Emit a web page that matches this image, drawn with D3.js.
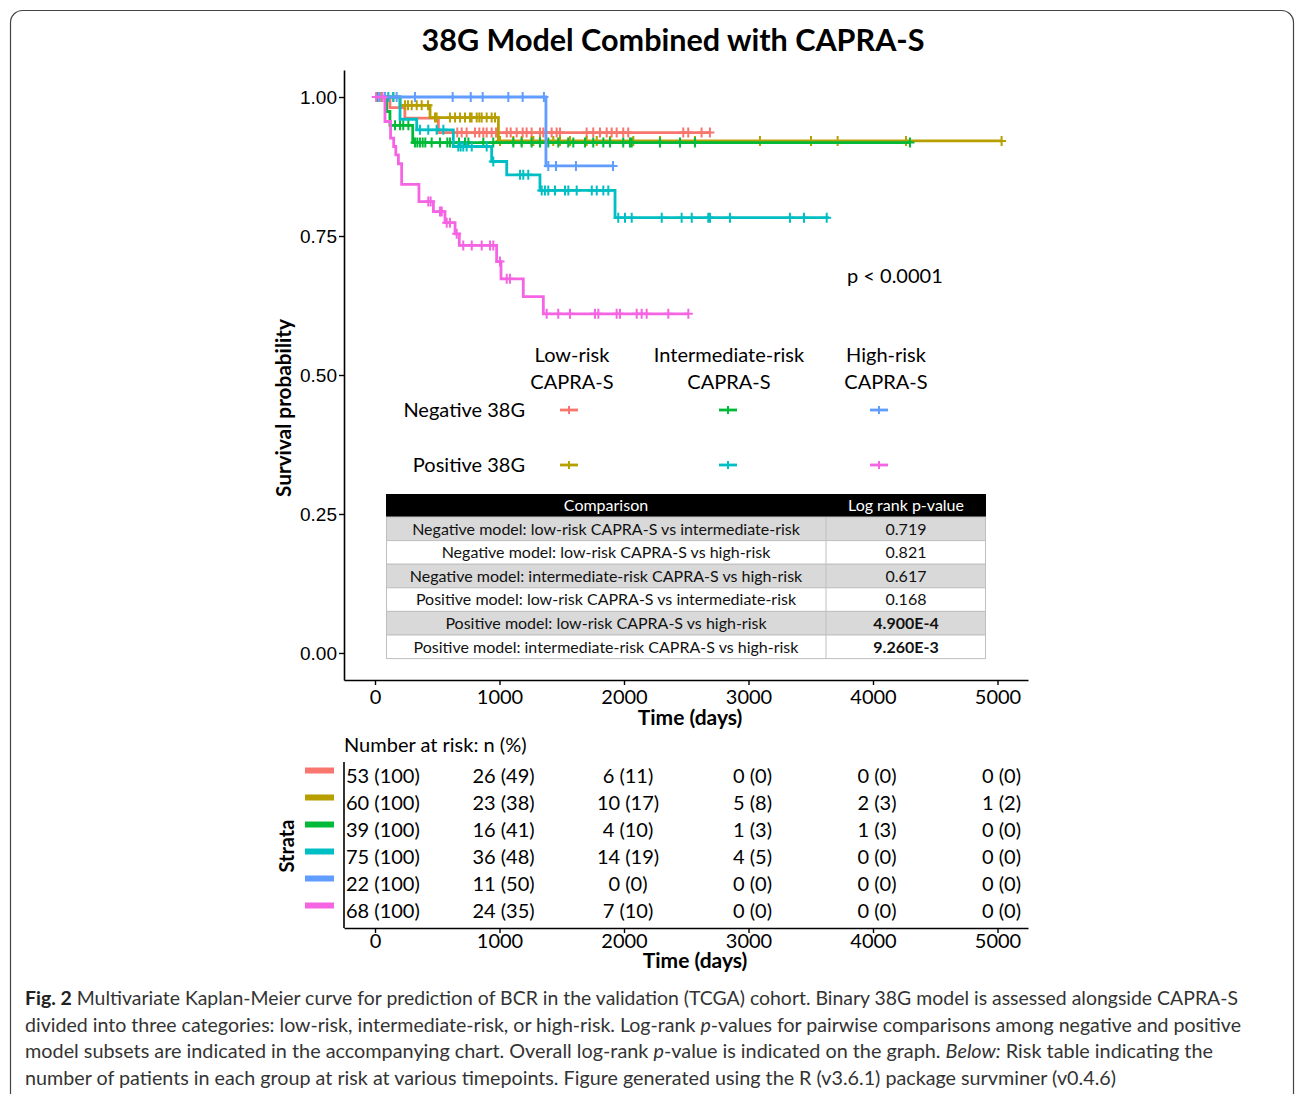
<!DOCTYPE html>
<html><head><meta charset="utf-8">
<script src="https://cdn.jsdelivr.net/npm/d3@7/dist/d3.min.js"></script>
<style>
html,body{margin:0;padding:0;background:#fff;}
svg{display:block;}
text{font-family:Lato,"Open Sans",sans-serif;}
</style></head><body>
<svg id="chart" width="1295" height="1094"></svg>
<script>
// ---------- DATA ----------
const strataNames = ["Negative 38G / Low-risk CAPRA-S","Positive 38G / Low-risk CAPRA-S","Negative 38G / Intermediate-risk CAPRA-S","Positive 38G / Intermediate-risk CAPRA-S","Negative 38G / High-risk CAPRA-S","Positive 38G / High-risk CAPRA-S"];
const strataColors = ["#F8766D","#B79F00","#00BA38","#00BFC4","#619CFF","#F564E3"];

const negLowTimes = [0, 120, 240, 509, 2690];
const negLowSurv  = [1, 0.981, 0.962, 0.936, 0.936];
const negLowCens  = [13, 54, 661, 696, 736, 803, 838, 870, 897, 937, 972, 1058, 1090, 1138, 1186, 1218, 1258, 1325, 1352, 1419, 1459, 1486, 1700, 1753, 1807, 1861, 1901, 1941, 1994, 2034, 2476, 2516, 2623, 2690];

const posLowTimes = [0, 201, 442, 991, 5033];
const posLowSurv  = [1, 0.985, 0.963, 0.921, 0.921];
const posLowCens  = [50, 147, 241, 265, 295, 335, 375, 426, 482, 495, 602, 643, 683, 723, 763, 776, 817, 838, 857, 897, 937, 964, 1004, 1111, 1178, 1258, 1272, 1325, 1432, 1486, 1566, 1700, 1781, 1888, 2075, 2289, 2570, 3092, 3502, 3716, 4265, 5033];

const negIntTimes = [0, 94, 120, 303, 4297];
const negIntSurv  = [1, 0.974, 0.949, 0.918, 0.918];
const negIntCens  = [20, 161, 201, 227, 268, 321, 340, 361, 383, 404, 455, 522, 581, 602, 675, 723, 750, 870, 950, 1111, 1178, 1258, 1325, 1392, 1472, 1552, 1593, 1687, 1753, 1834, 1888, 1994, 2048, 2062, 2289, 2450, 2570, 4297];

const posIntTimes = [0, 201, 335, 629, 937, 1058, 1325, 1928, 3646];
const posIntSurv  = [1, 0.96, 0.941, 0.911, 0.884, 0.860, 0.832, 0.783, 0.783];
const posIntCens  = [107, 147, 361, 428, 495, 549, 669, 688, 709, 736, 777, 897, 950, 1165, 1191, 1231, 1339, 1365, 1392, 1446, 1526, 1553, 1620, 1741, 1781, 1834, 1874, 1954, 2008, 2062, 2303, 2463, 2544, 2677, 2691, 2851, 3333, 3446, 3628];

const negHighTimes = [0, 1373, 1912];
const negHighSurv  = [1, 0.876, 0.876];
const negHighCens  = [35, 80, 174, 321, 624, 769, 865, 1071, 1186, 1357, 1392, 1454, 1614, 1912];

const posHighTimes = [0, 80, 125, 150, 167, 188, 214, 353, 469, 562, 643, 677, 977, 1012, 1191, 1352, 2517];
const posHighSurv  = [1, 0.956, 0.926, 0.911, 0.896, 0.880, 0.843, 0.812, 0.794, 0.774, 0.754, 0.733, 0.704, 0.673, 0.641, 0.610, 0.610];
const posHighCens  = [10, 60, 428, 447, 522, 536, 576, 602, 656, 709, 777, 857, 924, 950, 1004, 1058, 1084, 1379, 1472, 1566, 1767, 1794, 1941, 1968, 2102, 2142, 2182, 2356, 2517];

const xTicks = [0, 1000, 2000, 3000, 4000, 5000];
const yTicks = [0, 0.25, 0.5, 0.75, 1.0];

const riskN   = [[53,26,6,0,0,0],[60,23,10,5,2,1],[39,16,4,1,1,0],[75,36,14,4,0,0],[22,11,0,0,0,0],[68,24,7,0,0,0]];
const riskPct = [[100,49,11,0,0,0],[100,38,17,8,3,2],[100,41,10,3,3,0],[100,48,19,5,0,0],[100,50,0,0,0,0],[100,35,10,0,0,0]];

const legendCols = ["Low-risk|CAPRA-S","Intermediate-risk|CAPRA-S","High-risk|CAPRA-S"];
const legendRows = ["Negative 38G","Positive 38G"];

const compLabels = ["Negative model: low-risk CAPRA-S vs intermediate-risk","Negative model: low-risk CAPRA-S vs high-risk","Negative model: intermediate-risk CAPRA-S vs high-risk","Positive model: low-risk CAPRA-S vs intermediate-risk","Positive model: low-risk CAPRA-S vs high-risk","Positive model: intermediate-risk CAPRA-S vs high-risk"];
const compPvals = ["0.719","0.821","0.617","0.168","4.900E-4","9.260E-3"];
const compBold  = [false,false,false,false,true,true];

const series = [
  {times:negLowTimes, surv:negLowSurv, cens:negLowCens},
  {times:posLowTimes, surv:posLowSurv, cens:posLowCens},
  {times:negIntTimes, surv:negIntSurv, cens:negIntCens},
  {times:posIntTimes, surv:posIntSurv, cens:posIntCens},
  {times:negHighTimes, surv:negHighSurv, cens:negHighCens},
  {times:posHighTimes, surv:posHighSurv, cens:posHighCens}
];
const drawOrder = [0, 1, 2, 3, 4, 5];

// ---------- CHART ----------
const svg = d3.select("#chart");
svg.append("rect").attr("x",10.5).attr("y",10.5).attr("width",1283).attr("height",1110)
  .attr("rx",12).attr("fill","none").attr("stroke","#444").attr("stroke-width",1.2);

svg.append("text").attr("x",673).attr("y",51).attr("text-anchor","middle")
  .attr("font-size",30).attr("font-weight","bold").attr("fill","#000")
  .attr("textLength",503).attr("lengthAdjust","spacingAndGlyphs")
  .text("38G Model Combined with CAPRA-S");

const x = d3.scaleLinear().domain([-249, 5245]).range([344, 1028]);
const y = d3.scaleLinear().domain([-0.0486, 1.0486]).range([680, 70]);

function styleX(g, yOff){
  g.select(".domain").attr("stroke","#000").attr("stroke-width",1.6);
  g.selectAll(".tick line").attr("stroke","#000").attr("stroke-width",1.4);
  g.selectAll(".tick text").attr("font-size",20).attr("fill","#000").attr("y",yOff).attr("dy","0.8em")
    .style("font-family","Lato");
}
const gx = svg.append("g").attr("transform","translate(0,680)")
  .call(d3.axisBottom(x).tickValues(xTicks).tickSize(5).tickSizeOuter(0).tickFormat(d3.format("d")));
styleX(gx, 8);
const gy = svg.append("g").attr("transform","translate(344,0)")
  .call(d3.axisLeft(y).tickValues(yTicks).tickSize(5).tickSizeOuter(0).tickFormat(d3.format(".2f")));
gy.select(".domain").attr("stroke","#000").attr("stroke-width",1.6);
gy.selectAll(".tick line").attr("stroke","#000").attr("stroke-width",1.4);
gy.selectAll(".tick text").attr("font-size",19).attr("fill","#000").attr("dy","0.35em")
  .style("font-family","'Liberation Sans'").attr("x",-7);

svg.append("text").attr("x",690).attr("y",725).attr("text-anchor","middle")
  .attr("font-size",21).attr("font-weight","bold").text("Time (days)");
svg.append("text").attr("transform","translate(291,408) rotate(-90)").attr("text-anchor","middle")
  .attr("font-size",20).attr("font-weight","bold")
  .attr("textLength",178).attr("lengthAdjust","spacingAndGlyphs").text("Survival probability");

// curves
const line = d3.line().x(d=>x(d[0])).y(d=>y(d[1])).curve(d3.curveStepAfter);
function survAt(s, t){
  let v = s.surv[0];
  for(let i=0;i<s.times.length;i++){ if(s.times[i]<=t) v = s.surv[i]; }
  return v;
}
const plotG = svg.append("g");
drawOrder.forEach(i=>{
  const s = series[i];
  const pts = s.times.map((t,k)=>[t, s.surv[k]]);
  plotG.append("path").attr("d", line(pts)).attr("fill","none")
    .attr("stroke", strataColors[i]).attr("stroke-width",2.8);
  plotG.selectAll(null).data(s.cens).enter().append("path")
    .attr("transform", t=>`translate(${x(t)},${y(survAt(s,t))})`)
    .attr("d","M-4.5,0H4.5M0,-5V5").attr("stroke", strataColors[i]).attr("stroke-width",2).attr("fill","none");
});

svg.append("text").attr("x",847).attr("y",283).attr("font-size",20).text("p < 0.0001");

// legend
const legColX = [572, 729, 886];
const legKeyX = [569, 728, 879];
const legRowY = [410, 465];
legendCols.forEach((c,j)=>{
  c.split("|").forEach((p,k)=>{
    svg.append("text").attr("x",legColX[j]).attr("y",362+k*27).attr("text-anchor","middle")
      .attr("font-size",20).text(p);
  });
});
legendRows.forEach((r,k)=>{
  svg.append("text").attr("x",525).attr("y",legRowY[k]+7).attr("text-anchor","end")
    .attr("font-size",20).text(r);
});
const legendMap = [[0,2,4],[1,3,5]];
legendMap.forEach((row,k)=>row.forEach((si,j)=>{
  const g = svg.append("g").attr("transform",`translate(${legKeyX[j]},${legRowY[k]})`);
  g.append("path").attr("d","M-9,0H9").attr("stroke",strataColors[si]).attr("stroke-width",2.8);
  g.append("path").attr("d","M0,-4V4").attr("stroke",strataColors[si]).attr("stroke-width",2);
}));

// comparison table
const tX0 = 386, tX1 = 986, tXm = 826;
const tY0 = 494, hdrH = 23, rowH = 23.6;
svg.append("rect").attr("x",tX0).attr("y",tY0).attr("width",tX1-tX0).attr("height",hdrH).attr("fill","#000");
svg.append("text").attr("x",(tX0+tXm)/2).attr("y",tY0+hdrH/2).attr("dy","0.36em").attr("text-anchor","middle")
  .attr("fill","#fff").attr("font-size",16).text("Comparison");
svg.append("text").attr("x",(tXm+tX1)/2).attr("y",tY0+hdrH/2).attr("dy","0.36em").attr("text-anchor","middle")
  .attr("fill","#fff").attr("font-size",16).text("Log rank p-value");
compLabels.forEach((lab,i)=>{
  const ry0 = tY0+hdrH+i*rowH;
  svg.append("rect").attr("x",tX0+0.5).attr("y",ry0).attr("width",tX1-tX0-1).attr("height",rowH)
    .attr("fill", i%2===0 ? "#d9d9d9" : "#ffffff").attr("stroke","#bfbfbf").attr("stroke-width",1);
  svg.append("line").attr("x1",tXm).attr("x2",tXm).attr("y1",ry0).attr("y2",ry0+rowH).attr("stroke","#bfbfbf");
  svg.append("text").attr("x",(tX0+tXm)/2).attr("y",ry0+rowH/2).attr("dy","0.36em").attr("text-anchor","middle")
    .attr("font-size",16).attr("fill","#111").text(lab);
  svg.append("text").attr("x",(tXm+tX1)/2).attr("y",ry0+rowH/2).attr("dy","0.36em").attr("text-anchor","middle")
    .attr("font-size",16).attr("fill","#111").attr("font-weight",compBold[i]?"bold":"normal").text(compPvals[i]);
});

// ---------- RISK TABLE ----------
svg.append("text").attr("x",344).attr("y",752).attr("font-size",20).text("Number at risk: n (%)");
const ry = d3.scalePoint().domain(d3.range(6)).range([762, 924]).padding(0.5);
svg.append("line").attr("x1",344).attr("x2",344).attr("y1",762).attr("y2",928).attr("stroke","#000").attr("stroke-width",1.6);
const gx2 = svg.append("g").attr("transform","translate(0,928)")
  .call(d3.axisBottom(x).tickValues(xTicks).tickSize(5).tickSizeOuter(0).tickFormat(d3.format("d")));
styleX(gx2, 4);
svg.append("text").attr("x",695).attr("y",968).attr("text-anchor","middle")
  .attr("font-size",21).attr("font-weight","bold").text("Time (days)");
svg.append("text").attr("transform","translate(294,846) rotate(-90)").attr("text-anchor","middle")
  .attr("font-size",20).attr("font-weight","bold").text("Strata");

riskN.forEach((row,i)=>{
  svg.append("rect").attr("x",305).attr("y",ry(i)-8).attr("width",29).attr("height",6).attr("fill",strataColors[i]);
  row.forEach((n,j)=>{
    const t = xTicks[j];
    const el = svg.append("text").attr("y",ry(i)).attr("dy","0.36em").attr("font-size",20).attr("fill","#000")
      .text(`${n} (${riskPct[i][j]})`);
    if(j===0) el.attr("x",346).attr("text-anchor","start");
    else el.attr("x",x(t)+4).attr("text-anchor","middle");
  });
});

// ---------- CAPTION ----------
const capLines = [
  {w:1213, parts:[["Fig. 2","bold"],[" Multivariate Kaplan-Meier curve for prediction of BCR in the validation (TCGA) cohort. Binary 38G model is assessed alongside CAPRA-S",""]]},
  {w:1216, parts:[["divided into three categories: low-risk, intermediate-risk, or high-risk. Log-rank ",""],["p","italic"],["-values for pairwise comparisons among negative and positive",""]]},
  {w:1188, parts:[["model subsets are indicated in the accompanying chart. Overall log-rank ",""],["p","italic"],["-value is indicated on the graph. ",""],["Below:","italic"],[" Risk table indicating the",""]]},
  {w:1091, parts:[["number of patients in each group at risk at various timepoints. Figure generated using the R (v3.6.1) package survminer (v0.4.6)",""]]}
];
capLines.forEach((ln,i)=>{
  const t = svg.append("text").attr("x",25).attr("y",1005+i*26.7).attr("font-size",19).attr("fill","#333")
    .attr("textLength",ln.w).attr("lengthAdjust","spacingAndGlyphs");
  ln.parts.forEach(p=>{
    const ts = t.append("tspan").text(p[0]);
    if(p[1]==="bold") ts.attr("font-weight","bold").attr("fill","#222");
    if(p[1]==="italic") ts.attr("font-style","italic");
  });
});
</script>
</body></html>
